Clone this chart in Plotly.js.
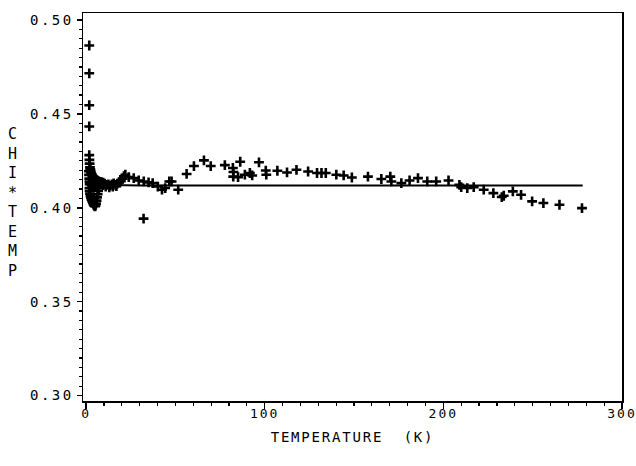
<!DOCTYPE html>
<html>
<head>
<meta charset="utf-8">
<script src="https://cdn.plot.ly/plotly-3.0.1.min.js"></script>
<style>
  html, body { margin: 0; padding: 0; background: #fff; }
  #chart { width: 636px; height: 466px; }
</style>
</head>
<body>
<div id="chart"></div>
<script>
// Measured data: temperature (K) and chi*T
const tempK = [
  1.8, 1.8, 1.8, 1.8,
  1.8, 1.9, 2.0, 2.2, 2.4, 2.6, 2.9, 3.2, 3.6, 4.0, 4.5, 5.0, 5.6, 6.3, 7.0, 7.8, 8.7, 9.6,
  1.6, 1.7, 1.8, 1.9, 2.0, 2.3, 2.6, 3.0, 3.5, 4.0, 4.5, 5.5, 6.5, 7.5, 8.5, 9.5,
  1.9, 2.0, 2.2, 2.5, 2.8, 3.1, 3.4, 3.8, 4.2, 4.6, 5.0, 5.3, 5.6, 5.9, 6.2, 6.5, 6.8, 7.2,
  10.5, 11.5, 12.5, 13.5, 14.5, 15.5, 16.5, 17.5, 18.5, 19.5, 20.5, 21.2,
  11, 13, 15, 17,
  22.0, 23.9, 26.7, 29.5, 32.3, 35.0, 37.3, 40.2, 42.5, 44.3, 46.6, 32.2,
  47.9, 51.6, 56.3, 60.4, 66.0, 69.8, 77.7, 82.2, 86.3,
  82.5, 82.4, 85.1, 88.9, 91.7, 93.0,
  96.8, 100.6, 100.9, 107.1, 112.5, 117.8, 124.3, 129.3, 131.8, 134.2,
  140.1, 144.2, 148.8, 157.8, 165.3, 170.3, 170.9, 176.5, 181.1, 185.8,
  191.0, 196.0, 202.9, 209.0, 210.0, 213.4, 217.0, 222.6, 228.0, 232.7, 233.8, 238.9, 243.5,
  249.7, 256.0, 265.0, 277.6
];
const chiT = [
  0.4864, 0.4716, 0.4546, 0.4433,
  0.4280, 0.4255, 0.4235, 0.4215, 0.4205, 0.4195, 0.4185, 0.4178, 0.4170, 0.4163, 0.4158, 0.4153, 0.4148, 0.4145, 0.4142, 0.4138, 0.4136, 0.4134,
  0.4195, 0.4175, 0.4155, 0.4140, 0.4125, 0.4135, 0.4128, 0.4122, 0.4118, 0.4115, 0.4112, 0.4118, 0.4125, 0.4128, 0.4125, 0.4120,
  0.4105, 0.4090, 0.4075, 0.4062, 0.4052, 0.4043, 0.4035, 0.4025, 0.4017, 0.4011, 0.4008, 0.4012, 0.4022, 0.4038, 0.4055, 0.4072, 0.4090, 0.4105,
  0.4128, 0.4122, 0.4125, 0.4118, 0.4124, 0.4130, 0.4122, 0.4128, 0.4135, 0.4142, 0.4155, 0.4168,
  0.4112, 0.4108, 0.4113, 0.4115,
  0.4176, 0.4163, 0.4158, 0.4145, 0.4140, 0.4135, 0.4131, 0.4113, 0.4096, 0.4105, 0.4140, 0.3942,
  0.4140, 0.4096, 0.4180, 0.4222, 0.4252, 0.4222, 0.4227, 0.4212, 0.4245,
  0.4190, 0.4166, 0.4163, 0.4176, 0.4185, 0.4172,
  0.4242, 0.4198, 0.4176, 0.4197, 0.4188, 0.4202, 0.4193, 0.4185, 0.4185, 0.4185,
  0.4176, 0.4172, 0.4161, 0.4166, 0.4153, 0.4166, 0.4140, 0.4131, 0.4145, 0.4158,
  0.4140, 0.4140, 0.4145, 0.4122, 0.4110, 0.4105, 0.4110, 0.4096, 0.4078, 0.4057, 0.4064, 0.4087, 0.4069,
  0.4034, 0.4025, 0.4016, 0.3998
];

// Fitted curve
const fitTemp = [1.6, 2.0, 3.0, 4.0, 6.0, 8.0, 10, 15, 20, 30, 50, 100, 150, 200, 250, 278];
const fitChiT = [0.4250, 0.4205, 0.4165, 0.4148, 0.4133, 0.4127, 0.4124, 0.4121, 0.4119, 0.4118, 0.4118, 0.4118, 0.4118, 0.4118, 0.4118, 0.4118];

// Axis labels
const xTickVals = [0, 100, 200, 300];
const xTickText = ['0', '100', '200', '300'];
const yTickVals = [0.30, 0.35, 0.40, 0.45, 0.50];
const yTickText = ['0.30', '0.35', '0.40', '0.45', '0.50'];
const xTitle = 'TEMPERATURE  (K)';
const yTitle = 'CHI*TEMP';

const FONT = 'DejaVu Sans Mono, Liberation Mono, monospace';

const traces = [
  {
    x: fitTemp, y: fitChiT, type: 'scatter', mode: 'lines',
    line: { color: '#000', width: 2 }, hoverinfo: 'skip'
  },
  {
    x: tempK, y: chiT, type: 'scatter', mode: 'markers',
    marker: { symbol: 'cross-thin', size: 7, color: '#000', line: { color: '#000', width: 2.6 } }
  }
];

const layout = {
  width: 636, height: 466,
  margin: { l: 83, r: 14, t: 13, b: 65 },
  paper_bgcolor: '#fff', plot_bgcolor: '#fff',
  showlegend: false,
  font: { family: FONT, size: 14, color: '#000' },
  xaxis: {
    range: [-1.7, 300], tickvals: xTickVals, ticktext: xTickText,
    ticks: 'outside', ticklen: 6, tickwidth: 1.5, tickcolor: '#000',
    ticklabelstandoff: -6,
    minor: { dtick: 10, ticks: 'outside', ticklen: 3, tickwidth: 1.2, tickcolor: '#000', showgrid: false },
    showline: true, linecolor: '#000', linewidth: 1.5, mirror: true,
    showgrid: false, zeroline: false,
    tickfont: { family: FONT, size: 13, color: '#000' },
    title: { text: xTitle, font: { family: FONT, size: 14, color: '#000' }, standoff: 12 }
  },
  yaxis: {
    range: [0.2971, 0.5037], tickvals: yTickVals, ticktext: yTickText,
    ticks: 'outside', ticklen: 5, tickwidth: 1.5, tickcolor: '#000',
    minor: { dtick: 0.005, ticks: 'outside', ticklen: 3, tickwidth: 1.2, tickcolor: '#000', showgrid: false },
    showline: true, linecolor: '#000', linewidth: 1.5, mirror: true,
    showgrid: false, zeroline: false,
    tickfont: { family: FONT, size: 14, color: '#000' }
  },
  annotations: [
    {
      text: yTitle.split('').join('<br>'),
      xref: 'paper', yref: 'paper', x: -0.1317, y: 0.5116,
      xanchor: 'center', yanchor: 'middle', showarrow: false,
      font: { family: FONT, size: 15, color: '#000' }
    }
  ]
};

Plotly.newPlot('chart', traces, layout, { staticPlot: true, displayModeBar: false }).then(function () {
  document.querySelectorAll('.ytick text').forEach(function (t) { t.style.letterSpacing = '2.5px'; });
  document.querySelectorAll('.xtick text').forEach(function (t) { t.style.letterSpacing = '2px'; });
  document.querySelectorAll('.g-xtitle text').forEach(function (t) { t.style.letterSpacing = '1.8px'; });
});
</script>
</body>
</html>
